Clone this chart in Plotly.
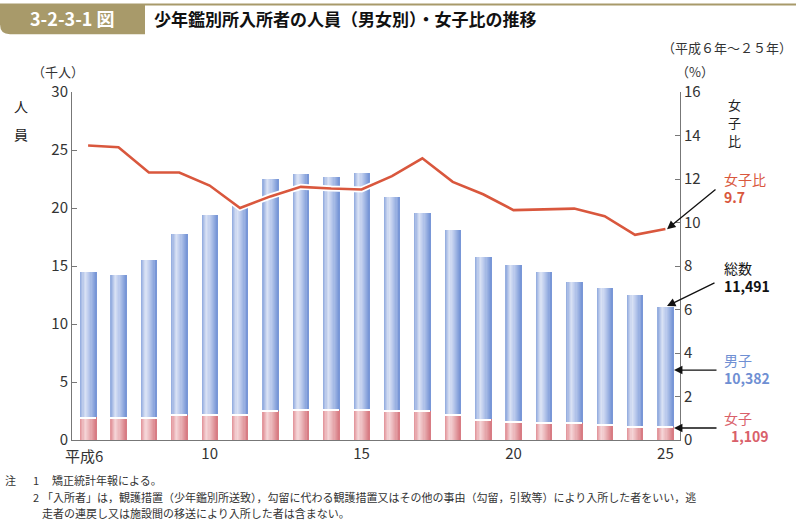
import plotly.graph_objects as go

years = list(range(6, 26))
total = [14.50, 14.21, 15.50, 17.80, 19.38, 20.15, 22.48, 22.91, 22.71, 23.02,
         20.99, 19.55, 18.09, 15.74, 15.05, 14.50, 13.58, 13.12, 12.49, 11.491]
female = [1.95, 1.87, 1.87, 2.13, 2.21, 2.13, 2.50, 2.64, 2.56, 2.61,
          2.52, 2.50, 2.13, 1.78, 1.58, 1.52, 1.44, 1.32, 1.18, 1.109]
male = [round(t - f, 3) for t, f in zip(total, female)]
ratio = [13.54, 13.46, 12.30, 12.30, 11.70, 10.67, 11.20, 11.64, 11.56, 11.52,
         12.13, 12.95, 11.87, 11.30, 10.57, 10.60, 10.64, 10.29, 9.43, 9.7]
xtick_vals = [6, 10, 15, 20, 25]
xtick_text = ["", "10", "15", "20", "25"]

W, H = 796, 520
L, R, T, B = 72, 680, 91.7, 440

def px(x):
    return (x - L) / (R - L)

def py(y):
    return (B - y) / (B - T)

FONT = "Noto Sans CJK JP"

def hex2rgb(h):
    return tuple(int(h[i:i + 2], 16) for i in (1, 3, 5))

def gradient(stops, n):
    out = []
    for k in range(n):
        t = (k + 0.5) / n
        for (p0, c0), (p1, c1) in zip(stops[:-1], stops[1:]):
            if p0 <= t <= p1:
                f = (t - p0) / (p1 - p0)
                a, b = hex2rgb(c0), hex2rgb(c1)
                rgb = [round(a[j] + (b[j] - a[j]) * f) for j in range(3)]
                out.append("rgb(%d,%d,%d)" % tuple(rgb))
                break
    return out

NS = 14
male_cols = gradient([(0, "#8ea8dd"), (0.3, "#dbe3f5"), (0.55, "#b9c9ec"), (1, "#7493d5")], NS)
fem_cols = gradient([(0, "#e08f96"), (0.3, "#f6d7d9"), (0.55, "#ebb7bb"), (1, "#d6777f")], NS)
bw = 0.53
sw = bw / NS

fig = go.Figure()
for i in range(NS):
    wi = sw * (2.0 if i < NS - 1 else 1.0)
    fig.add_trace(go.Bar(x=years, y=female, width=wi, offset=-bw / 2 + i * sw,
                         marker=dict(color=fem_cols[i], line=dict(width=0)),
                         showlegend=False, hoverinfo="skip"))
    fig.add_trace(go.Bar(x=years, y=male, base=female, width=wi, offset=-bw / 2 + i * sw,
                         marker=dict(color=male_cols[i], line=dict(width=0)),
                         showlegend=False, hoverinfo="skip"))
fig.add_trace(go.Bar(x=years, y=[0.12] * len(years), base=[f - 0.06 for f in female],
                     width=bw, offset=-bw / 2, marker=dict(color="white", line=dict(width=0)),
                     showlegend=False, hoverinfo="skip"))
fig.add_trace(go.Scatter(x=years, y=ratio, yaxis="y2", mode="lines",
                         line=dict(color="white", width=6), showlegend=False, hoverinfo="skip"))
fig.add_trace(go.Scatter(x=years, y=ratio, yaxis="y2", mode="lines",
                         line=dict(color="#d9573d", width=2.6), showlegend=False))

axis_font = dict(family=FONT, size=15, color="#333")
fig.update_layout(
    width=W, height=H, barmode="overlay", bargap=0,
    margin=dict(l=L, r=W - R, t=T, b=H - B),
    paper_bgcolor="white", plot_bgcolor="white",
    font=dict(family=FONT, color="#222"),
    xaxis=dict(range=[5.47, 25.48], tickvals=xtick_vals, ticktext=xtick_text,
               showgrid=False, zeroline=False, showline=True, linecolor="#777", linewidth=1,
               ticks="", tickfont=axis_font, fixedrange=True),
    yaxis=dict(range=[0, 30], tickvals=[0, 5, 10, 15, 20, 25, 30], showgrid=False, zeroline=False,
               showline=True, linecolor="#777", linewidth=1, ticks="inside", ticklen=5,
               tickcolor="#777", tickfont=axis_font),
    yaxis2=dict(range=[0, 16], tickvals=list(range(0, 17, 2)), overlaying="y", side="right",
                showgrid=False, zeroline=False, showline=True, linecolor="#777", linewidth=1,
                ticks="inside", ticklen=5, tickcolor="#777", tickfont=axis_font),
)

shapes = []
x1 = px(145)
yt, yb = py(3), py(34)
shapes.append(dict(type="path", xref="paper", yref="paper",
                   path=f"M {px(0)},{yt} L {x1},{yt} L {x1},{yb} L {px(10)},{yb} Q {px(0)},{yb} {px(0)},{py(24)} Z",
                   fillcolor="#a89a6a", line=dict(width=0), layer="above"))
shapes.append(dict(type="line", xref="paper", yref="paper", x0=x1, x1=px(796), y0=py(4), y1=py(4),
                   line=dict(color="#a89a6a", width=2)))
fig.update_layout(shapes=shapes)

ann = []
def text(x, y, s, size=13, color="#222", anchor="left", bold=False, family=FONT, align="left"):
    if bold:
        s = f"<b>{s}</b>"
    ann.append(dict(x=px(x), y=py(y), xref="paper", yref="paper", text=s, showarrow=False,
                    xanchor=anchor, yanchor="middle", align=align,
                    font=dict(family=family, size=size, color=color)))

text(72, 18, "3-2-3-1 図", size=18, color="white", anchor="center", bold=True)
text(152, 18, "少年鑑別所入所者の人員（男女別）・女子比の推移", size=17, color="#111", bold=True)
text(794, 47, "（平成６年～２５年）", size=13, color="#333", anchor="right")
text(58, 71, "（千人）", size=13, color="#333", anchor="center")
text(695, 71, "（%）", size=13, color="#333", anchor="center")
text(21, 106, "人", size=14, anchor="center")
text(21, 134, "員", size=14, anchor="center")
text(734, 104, "女", size=13, anchor="center")
text(734, 122, "子", size=13, anchor="center")
text(734, 140, "比", size=13, anchor="center")
ann.append(dict(x=6, y=0, xref="x", yref="paper", text="平成6", showarrow=False, xanchor="center",
                yanchor="top", xshift=-4, yshift=-3, font=axis_font))

text(722, 188, "女子比<br><b>9.7</b>", size=14, color="#d9573d")
text(722, 277, "総数<br><b>11,491</b>", size=14, color="#111")
text(722, 369, "男子<br><b>10,382</b>", size=14, color="#6f8fd3")
text(722, 427, "女子<br>\u2002<b>1,109</b>", size=14, color="#d9606a")

def arrow(x0, y0, x1, y1):
    ann.append(dict(x=px(x1), y=py(y1), xref="paper", yref="paper", ax=x0 - x1, ay=y0 - y1,
                    text="", showarrow=True, arrowhead=2, arrowsize=1.3, arrowwidth=1.3,
                    arrowcolor="#111"))

arrow(717, 188, 667, 229)
arrow(716, 282, 667, 306)
arrow(718, 370, 674, 370)
arrow(718, 428, 674, 428)

text(3, 480, "注", size=11, color="#333")
text(31, 480, "1", size=11, color="#333")
text(50, 480, "矯正統計年報による。", size=11, color="#333")
text(31, 497, "2", size=11, color="#333")
text(40, 497, "「入所者」は，観護措置（少年鑑別所送致），勾留に代わる観護措置又はその他の事由（勾留，引致等）により入所した者をいい，逃",
     size=11, color="#333")
text(40, 513, "走者の連戻し又は施設間の移送により入所した者は含まない。", size=11, color="#333")

fig.update_layout(annotations=ann)
fig.write_html("out.html")
